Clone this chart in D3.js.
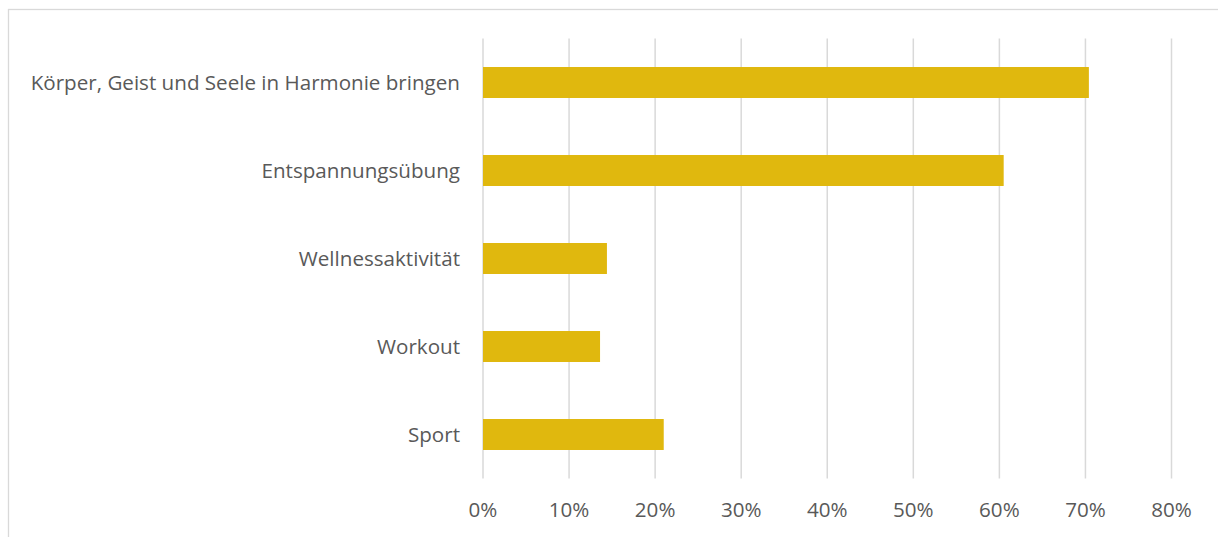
<!DOCTYPE html>
<html><head><meta charset="utf-8">
<script src="https://cdn.jsdelivr.net/npm/d3@7"></script>
<style>body{margin:0;background:#fff}</style>
</head><body>
<svg id="c" width="1218" height="537"></svg>
<script>
const categories = ["Körper, Geist und Seele in Harmonie bringen","Entspannungsübung","Wellnessaktivität","Workout","Sport"];
const values = [0.704, 0.605, 0.144, 0.136, 0.21];
const ticks = [0,0.1,0.2,0.3,0.4,0.5,0.6,0.7,0.8];

const svg = d3.select("#c");
const font = "'Open Sans', sans-serif";
svg.append("rect").attr("x",8.5).attr("y",9.5).attr("width",1230).attr("height",540)
  .attr("fill","#fff").attr("stroke","#d9d9d9").attr("stroke-width",1.3);

const x = d3.scaleLinear().domain([0,0.8]).range([483,1171.5]);
const y = d3.scaleBand().domain(categories).range([38.5,478.5]).paddingInner(0.648).paddingOuter(0.324);

svg.append("g").selectAll("line").data(ticks).join("line")
  .attr("x1",d=>x(d)).attr("x2",d=>x(d)).attr("y1",38.5).attr("y2",478.5)
  .attr("stroke","#d9d9d9").attr("stroke-width",1.5);

svg.append("g").selectAll("rect").data(values).join("rect")
  .attr("x",x(0)).attr("y",(d,i)=>y(categories[i])).attr("height",y.bandwidth())
  .attr("width",d=>x(d)-x(0)).attr("fill","#e0b80e");

svg.append("g").selectAll("text").data(categories).join("text")
  .attr("x",460).attr("y",d=>y(d)+y.bandwidth()/2).attr("dy","0.35em")
  .attr("text-anchor","end").attr("font-family",font).attr("font-size",20.6)
  .attr("fill","#595959").text(d=>d);

svg.append("g").selectAll("text").data(ticks).join("text")
  .attr("x",d=>x(d)).attr("y",510).attr("dy","0.35em")
  .attr("text-anchor","middle").attr("font-family",font).attr("font-size",20.6)
  .attr("fill","#595959").text(d=>d3.format(".0%")(d));
</script>
</body></html>
